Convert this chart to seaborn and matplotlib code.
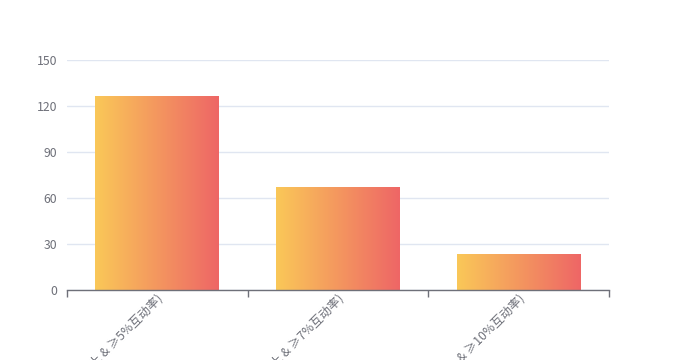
import matplotlib
matplotlib.use("Agg")
import matplotlib.pyplot as plt
import seaborn as sns
import numpy as np
import pandas as pd
from matplotlib.colors import LinearSegmentedColormap

categories = ["爆款视频(播放100万以上 & ≥5%互动率)",
              "爆款视频(播放100万以上 & ≥7%互动率)",
              "爆款视频(播放100万以上 & ≥10%互动率)"]
values = [126, 67, 23]
yticks = [0, 30, 60, 90, 120, 150]

sns.set_theme(style="white")
plt.rcParams['font.family'] = ['Noto Sans CJK SC', 'DejaVu Sans']

df = pd.DataFrame({"cat": categories, "val": values})

fig = plt.figure(figsize=(6.77, 3.6), dpi=100)
ax = fig.add_axes([67/677, 70/360, 542/677, 230/360])
sns.barplot(data=df, x="cat", y="val", ax=ax, width=0.685, color="#fac858")

cmap = LinearSegmentedColormap.from_list("g", ["#fac858", "#ee6666"])
grad = np.linspace(0, 1, 256).reshape(1, -1)
for p in ax.patches:
    x0, y0, w, h = p.get_x(), p.get_y(), p.get_width(), p.get_height()
    p.set_facecolor("none")
    p.set_edgecolor("none")
    ax.imshow(grad, cmap=cmap, aspect="auto", extent=[x0, x0 + w, y0, y0 + h],
              zorder=2, interpolation="bicubic")

ax.set_xlim(-0.5, len(categories) - 0.5)
ax.set_ylim(0, 150)
ax.set_yticks(yticks)
ax.set_yticklabels([str(v) for v in yticks])
ax.set_xlabel("")
ax.set_ylabel("")
ax.grid(axis="y", color="#e0e6f1", linewidth=1)
ax.set_axisbelow(True)
for s in ["top", "right", "left"]:
    ax.spines[s].set_visible(False)
ax.spines["bottom"].set_color("#6e7079")
ax.spines["bottom"].set_linewidth(1)

ax.set_xticks(range(len(categories)))
ax.set_xticklabels(categories, rotation=45, ha="right", rotation_mode="anchor",
                   fontsize=8.8, color="#6e7079")
ax.tick_params(axis="x", which="major", length=0, pad=2)
ax.set_xticks(np.arange(-0.5, len(categories), 1.0), minor=True)
ax.tick_params(axis="x", which="minor", length=5, color="#6e7079", width=1,
               direction="out", bottom=True)
ax.tick_params(axis="y", length=0, labelsize=8.8, labelcolor="#6e7079", pad=7)

fig.savefig("out.png", dpi=100)
